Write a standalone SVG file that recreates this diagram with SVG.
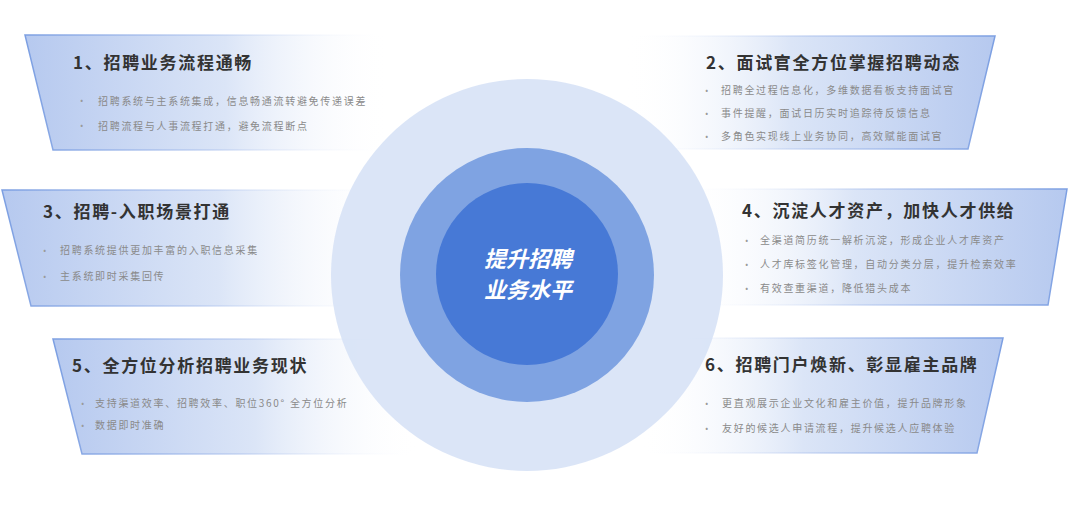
<svg xmlns="http://www.w3.org/2000/svg" width="1080" height="511" viewBox="0 0 1080 511">
<defs>
<linearGradient id="fillL" x1="0" y1="0" x2="1" y2="0">
<stop offset="0" stop-color="#b6c9ef"/>
<stop offset="0.55" stop-color="#dbe5f7"/>
<stop offset="1" stop-color="#ffffff" stop-opacity="0"/>
</linearGradient>
<linearGradient id="fillR" x1="1" y1="0" x2="0" y2="0">
<stop offset="0" stop-color="#b6c9ef"/>
<stop offset="0.55" stop-color="#dbe5f7"/>
<stop offset="1" stop-color="#ffffff" stop-opacity="0"/>
</linearGradient>
<linearGradient id="edgeL" x1="0" y1="0" x2="1" y2="0">
<stop offset="0" stop-color="#7c9fe2"/>
<stop offset="0.5" stop-color="#a9bfec" stop-opacity="0.6"/>
<stop offset="1" stop-color="#ffffff" stop-opacity="0"/>
</linearGradient>
<linearGradient id="edgeR" x1="1" y1="0" x2="0" y2="0">
<stop offset="0" stop-color="#7c9fe2"/>
<stop offset="0.5" stop-color="#a9bfec" stop-opacity="0.6"/>
<stop offset="1" stop-color="#ffffff" stop-opacity="0"/>
</linearGradient>
</defs>
<style>
.cardL{fill:url(#fillL);}
.cardR{fill:url(#fillR);}
.edgeL{fill:none;stroke:url(#edgeL);stroke-width:1.5;}
.edgeR{fill:none;stroke:url(#edgeR);stroke-width:1.5;}
.title{font-family:"Noto Sans CJK SC","Noto Sans",sans-serif;font-size:17px;font-weight:bold;fill:#333333;letter-spacing:1.7px;}
.item{font-family:"Noto Sans CJK SC","Noto Sans",sans-serif;font-size:10px;fill:#8a8a8a;letter-spacing:1.7px;}
.dot{font-family:"Noto Sans","DejaVu Sans",sans-serif;font-size:9px;fill:#9a9a9a;}
.center{font-family:"Noto Sans CJK SC",sans-serif;font-size:22px;font-weight:bold;font-style:italic;fill:#ffffff;text-anchor:middle;}
</style>
<rect width="1080" height="511" fill="#ffffff"/>

<g id="card1">
<polygon class="cardL" points="25,35 390,35 390,150 53,150"/>
<path class="edgeL" d="M390,35 L25,35 L53,150 L390,150"/>
<text class="title" x="73" y="69">1、招聘业务流程通畅</text>
<text class="dot" x="80" y="104">•</text>
<text class="item" x="98" y="104.5">招聘系统与主系统集成，信息畅通流转避免传递误差</text>
<text class="dot" x="80" y="129">•</text>
<text class="item" x="98" y="129.5">招聘流程与人事流程打通，避免流程断点</text>
</g>

<g id="card2">
<polygon class="cardR" points="625,36 995,36 968,149 625,149"/>
<path class="edgeR" d="M625,36 L995,36 L968,149 L625,149"/>
<text class="title" x="706" y="69">2、面试官全方位掌握招聘动态</text>
<text class="dot" x="705" y="94">•</text>
<text class="item" x="721" y="94">招聘全过程信息化，多维数据看板支持面试官</text>
<text class="dot" x="705" y="117">•</text>
<text class="item" x="721" y="117">事件提醒，面试日历实时追踪待反馈信息</text>
<text class="dot" x="705" y="140">•</text>
<text class="item" x="721" y="140">多角色实现线上业务协同，高效赋能面试官</text>
</g>

<g id="card3">
<polygon class="cardL" points="2,190 395,190 395,306 31,306"/>
<path class="edgeL" d="M395,190 L2,190 L31,306 L395,306"/>
<text class="title" x="43" y="218">3、招聘-入职场景打通</text>
<text class="dot" x="43" y="254">•</text>
<text class="item" x="60" y="254">招聘系统提供更加丰富的入职信息采集</text>
<text class="dot" x="43" y="280">•</text>
<text class="item" x="60" y="280">主系统即时采集回传</text>
</g>

<g id="card4">
<polygon class="cardR" points="680,189 1067,189 1048,305 680,305"/>
<path class="edgeR" d="M680,189 L1067,189 L1048,305 L680,305"/>
<text class="title" x="742" y="217">4、沉淀人才资产，加快人才供给</text>
<text class="dot" x="745" y="244">•</text>
<text class="item" x="760" y="244">全渠道简历统一解析沉淀，形成企业人才库资产</text>
<text class="dot" x="745" y="268">•</text>
<text class="item" x="760" y="268">人才库标签化管理，自动分类分层，提升检索效率</text>
<text class="dot" x="745" y="292">•</text>
<text class="item" x="760" y="292">有效查重渠道，降低猎头成本</text>
</g>

<g id="card5">
<polygon class="cardL" points="53,339 420,339 420,454 82,454"/>
<path class="edgeL" d="M420,339 L53,339 L82,454 L420,454"/>
<text class="title" x="72" y="372">5、全方位分析招聘业务现状</text>
<text class="dot" x="81" y="407">•</text>
<text class="item" x="95" y="407">支持渠道效率、招聘效率、职位360° 全方位分析</text>
<text class="dot" x="81" y="429">•</text>
<text class="item" x="95" y="429">数据即时准确</text>
</g>

<g id="card6">
<polygon class="cardR" points="640,338 1003,338 977,453 640,453"/>
<path class="edgeR" d="M640,338 L1003,338 L977,453 L640,453"/>
<text class="title" x="705" y="371">6、招聘门户焕新、彰显雇主品牌</text>
<text class="dot" x="705" y="407">•</text>
<text class="item" x="722" y="407">更直观展示企业文化和雇主价值，提升品牌形象</text>
<text class="dot" x="705" y="432">•</text>
<text class="item" x="722" y="432">友好的候选人申请流程，提升候选人应聘体验</text>
</g>

<g id="connectors"/>

<g id="center">
<circle cx="527" cy="275" r="196" fill="#d5e1f6" fill-opacity="0.85"/>
<circle cx="527" cy="275" r="127" fill="#7fa3e2"/>
<circle cx="527" cy="274" r="91" fill="#4779d6"/>
<text class="center" x="528" y="267">提升招聘</text>
<text class="center" x="528" y="298">业务水平</text>
</g>
</svg>
